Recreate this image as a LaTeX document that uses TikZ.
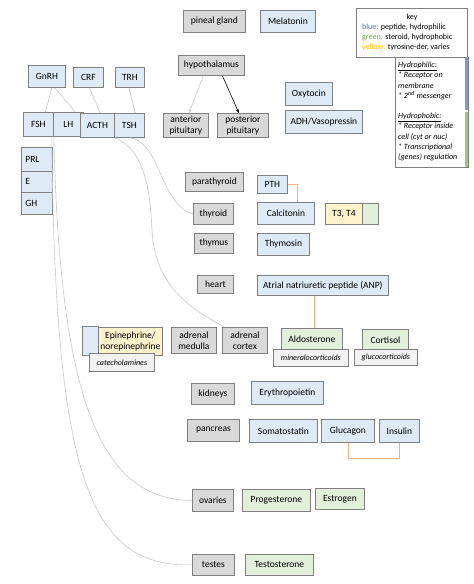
\documentclass[tikz,border=0pt]{standalone}
\usepackage{fontspec}
\setmainfont{Carlito}
\usetikzlibrary{arrows.meta}

\definecolor{glandgray}{HTML}{D9D9D9}
\definecolor{boxline}{HTML}{808080}
\definecolor{peptideblue}{HTML}{DEEBF7}
\definecolor{steroidgreen}{HTML}{E2EFDA}
\definecolor{tyrosineyellow}{HTML}{FFF2CC}
\definecolor{classgray}{HTML}{F2F2F2}
\definecolor{linkgray}{HTML}{C8C8C8}
\definecolor{pairorange}{HTML}{F4B183}
\definecolor{keyblue}{HTML}{4472C4}
\definecolor{keygreen}{HTML}{70AD47}
\definecolor{keyyellow}{HTML}{FFC000}

\tikzset{
  box/.style={draw=boxline, line width=0.8pt, anchor=north west, align=center,
    inner sep=1pt, font=\fontsize{9.5}{11}\selectfont},
  gland/.style={box, fill=glandgray},
  peptide/.style={box, fill=peptideblue},
  steroid/.style={box, fill=steroidgreen},
  tyrosine/.style={box, fill=tyrosineyellow},
  classbox/.style={box, fill=classgray, font=\fontsize{8}{10}\selectfont\itshape},
  leftbox/.style={align=left, inner xsep=4pt, text width=#1},
  link/.style={linkgray, line width=0.6pt},
  pairing/.style={pairorange, line width=0.8pt},
}

\begin{document}
\begin{tikzpicture}[x=1pt, y=-1pt, >={Stealth[length=4pt]}]
  \useasboundingbox (0,0) rectangle (474,584);

  % releasing hormones and pituitary hormones
  \node[peptide, minimum width=37pt, minimum height=22pt] (gnrh) at (28,65) {GnRH};
  \node[peptide, minimum width=30pt, minimum height=20pt] (crf) at (73,67) {CRF};
  \node[peptide, minimum width=29pt, minimum height=20pt] (trh) at (115,67) {TRH};
  \node[peptide, minimum width=30pt, minimum height=24pt] (fsh) at (23,112) {FSH};
  \node[peptide, minimum width=30pt, minimum height=24pt] (lh) at (53,112) {LH};
  \node[peptide, minimum width=34pt, minimum height=24pt] (acth) at (80,113) {ACTH};
  \node[peptide, minimum width=30pt, minimum height=24pt] (tsh) at (114,113) {TSH};
  \node[peptide, leftbox=23pt, minimum height=24pt] (prl) at (21,147) {PRL};
  \node[peptide, leftbox=23pt, minimum height=21pt] (e) at (21,171) {E};
  \node[peptide, leftbox=23pt, minimum height=22pt] (gh) at (21,192) {GH};

  % glands
  \node[gland, minimum width=62pt, minimum height=22pt] (pineal) at (183,10) {pineal gland};
  \node[gland, minimum width=66pt, minimum height=20pt] (hypothalamus) at (178,55) {hypothalamus};
  \node[gland, minimum width=45pt, minimum height=24pt] (anterior) at (163,113) {anterior\\pituitary};
  \node[gland, minimum width=51pt, minimum height=24pt] (posterior) at (217,113) {posterior\\pituitary};
  \node[gland, minimum width=58pt, minimum height=19pt] (parathyroid) at (185,172) {parathyroid};
  \node[gland, minimum width=40pt, minimum height=21pt] (thyroid) at (193,203) {thyroid};
  \node[gland, minimum width=39pt, minimum height=20pt] (thymus) at (194,233) {thymus};
  \node[gland, minimum width=36pt, minimum height=18pt] (heart) at (197,275) {heart};
  \node[gland, minimum width=45pt, minimum height=26pt] (medulla) at (171,327) {adrenal\\medulla};
  \node[gland, minimum width=45pt, minimum height=26pt] (cortex) at (222,327) {adrenal\\cortex};
  \node[gland, minimum width=43pt, minimum height=21pt] (kidneys) at (191,383) {kidneys};
  \node[gland, minimum width=52pt, minimum height=22pt] (pancreas) at (187,419) {pancreas};
  \node[gland, minimum width=41pt, minimum height=22pt] (ovaries) at (192,489) {ovaries};
  \node[gland, minimum width=42pt, minimum height=21pt] (testes) at (192,554) {testes};

  % hormones
  \node[peptide, minimum width=55pt, minimum height=22pt] (melatonin) at (260,10) {Melatonin};
  \node[peptide, minimum width=47pt, minimum height=23pt] (oxytocin) at (285,82) {Oxytocin};
  \node[peptide, minimum width=77pt, minimum height=23pt] (adh) at (285,110) {ADH/Vasopressin};
  \node[peptide, minimum width=30pt, minimum height=18pt] (pth) at (257,175) {PTH};
  \node[peptide, minimum width=57pt, minimum height=22pt] (calcitonin) at (257,202) {Calcitonin};
  \node[tyrosine, minimum width=37pt, minimum height=21pt] (thyroxine) at (325,203) {T3, T4};
  \node[steroid, minimum width=16pt, minimum height=21pt] (thyroxinegreen) at (362,203) {};
  \node[peptide, minimum width=52pt, minimum height=22pt] (thymosin) at (257,233) {Thymosin};
  \node[peptide, minimum width=131pt, minimum height=20pt] (anp) at (257,275) {Atrial natriuretic peptide (ANP)};
  \node[peptide, minimum width=16pt, minimum height=29pt] (epiblue) at (82,326) {};
  \node[tyrosine, minimum width=64pt, minimum height=28pt] (epinephrine) at (98,327) {Epinephrine/\\norepinephrine};
  \node[classbox, minimum width=65pt, minimum height=18pt] (catecholamines) at (89,353) {catecholamines};
  \node[steroid, minimum width=61pt, minimum height=22pt] (aldosterone) at (281,328) {Aldosterone};
  \node[classbox, minimum width=75pt, minimum height=17pt] (mineralo) at (273,349) {mineralocorticoids};
  \node[steroid, minimum width=46pt, minimum height=21pt] (cortisol) at (362,329) {Cortisol};
  \node[classbox, minimum width=63pt, minimum height=16pt] (gluco) at (354,349) {glucocorticoids};
  \node[peptide, minimum width=72pt, minimum height=23pt] (epo) at (251,381) {Erythropoietin};
  \node[peptide, minimum width=68pt, minimum height=23pt] (somatostatin) at (249,419) {Somatostatin};
  \node[peptide, minimum width=53pt, minimum height=23pt] (glucagon) at (321,419) {Glucagon};
  \node[peptide, minimum width=40pt, minimum height=23pt] (insulin) at (379,419) {Insulin};
  \node[steroid, minimum width=68pt, minimum height=22pt] (progesterone) at (242,489) {Progesterone};
  \node[steroid, minimum width=49pt, minimum height=21pt] (estrogen) at (315,488) {Estrogen};
  \node[steroid, minimum width=68pt, minimum height=21pt] (testosterone) at (245,554) {Testosterone};

  % key
  \node[box, fill=white, minimum width=111pt, minimum height=49pt] (key) at (356,8) {};
  \node[font=\fontsize{8}{10}\selectfont] (keytitle) at (412,17) {key};
  \node[anchor=north west, align=left, inner sep=0pt, font=\fontsize{8}{10}\selectfont] (keytext) at (362,24)
    {\textcolor{keyblue}{blue:} peptide, hydrophilic\\
     \textcolor{keygreen}{green:} steroid, hydrophobic\\
     \textcolor{keyyellow}{yellow:} tyrosine-der, varies};
  \node[box, fill=white, minimum width=73pt, minimum height=110pt] (receptors) at (395,57) {};
  \fill[keyblue!70] (465,57) rectangle (468,110);
  \fill[keygreen!70] (465,112) rectangle (468,167);
  \node[anchor=north west, align=left, inner sep=0pt, font=\fontsize{8}{10.2}\selectfont\itshape] (receptortext) at (398,62)
    {\underline{Hydrophilic:}\\
     {*} Receptor on\\
     membrane\\
     {*} 2\textsuperscript{nd} messenger\\[10.2pt]
     \underline{Hydrophobic:}\\
     {*} Receptor inside\\
     cell (cyt or nuc)\\
     {*} Transcriptional\\
     (genes) regulation};

  % connectors
  \draw[link] ([xshift=5pt]gnrh.south) -- ([xshift=7pt]fsh.north);
  \draw[link] ([xshift=8pt]gnrh.south) -- ([xshift=7pt]lh.north);
  \draw[link] ([xshift=1pt]crf.south) -- ([xshift=3pt]acth.north);
  \draw[link] ([xshift=-1pt]trh.south) -- ([xshift=6pt]tsh.north);
  \draw[link, ->] ([xshift=-8pt]hypothalamus.south) -- ([xshift=3pt]anterior.north);
  \draw[->, line width=0.6pt] ([xshift=11pt]hypothalamus.south) -- ([xshift=-4pt]posterior.north);

  \draw[link] (tsh.south) .. controls (160,140) and (160,205) .. (thyroid.west);
  \draw[link] (acth.south east) .. controls (145,150) and (150,190) .. (152,230)
    .. controls (155,290) and (195,310) .. ([xshift=2pt]cortex.north west);
  \draw[link] (fsh.south east) .. controls (60,400) and (100,500) .. (ovaries.west);
  \draw[link] ([xshift=-2pt]fsh.south east) .. controls (55,480) and (90,567) .. (testes.west);

  \draw[pairing] (pth.east) -| ([xshift=11pt]calcitonin.north);
  \draw[pairing] ([xshift=2pt]aldosterone.north) -- ([xshift=2pt]aldosterone.north |- anp.south);
  \draw[pairing] (glucagon.south) -- ++(0,16) -| (insulin.south);

\end{tikzpicture}
\end{document}
